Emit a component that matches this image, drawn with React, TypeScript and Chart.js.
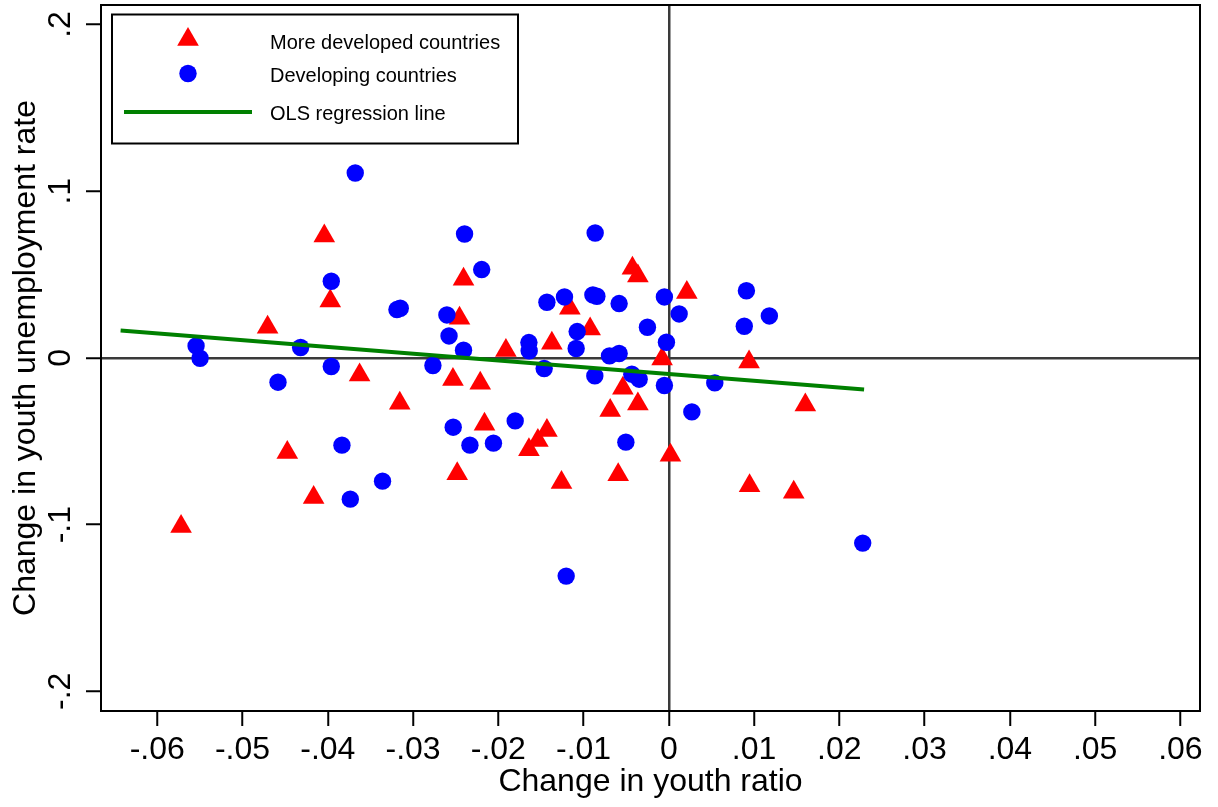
import React, { useEffect, useRef } from 'react';
import { Chart, registerables } from 'chart.js';

Chart.register(...registerables);

// More developed countries (red triangles)
const moreDevX = [
  -0.05721, -0.04706, -0.04475, -0.04166, -0.04041, -0.03971, -0.03627, -0.03156,
  -0.02532, -0.02482, -0.02455, -0.02408, -0.02212, -0.02162, -0.01911, -0.01641,
  -0.01536, -0.0143, -0.01372, -0.01259, -0.01161, -0.00923, -0.00688, -0.00594,
  -0.00539, -0.00427, -0.00363, -0.00363, -0.00079, 0.00019, 0.00211, 0.00941,
  0.00947, 0.01465, 0.01601,
];
const moreDevY = [
  -0.10108, 0.0184, -0.05671, -0.08369, 0.07314, 0.03417, -0.01019, -0.02716,
  -0.01295, -0.06954, 0.0238, 0.04718, -0.01517, -0.03975, 0.00444, -0.05516,
  -0.04952, -0.04353, 0.00881, -0.0747, 0.0298, 0.01739, -0.03153, -0.07014,
  -0.01817, 0.05378, 0.04916, -0.02758, -0.0006, -0.05833, 0.03921, -0.0024,
  -0.07674, -0.08052, -0.02818,
];

// Developing countries (blue circles)
const devX = [
  -0.05545, -0.05498, -0.04584, -0.04319, -0.03959, -0.03959, -0.03834, -0.03736,
  -0.03678, -0.03358, -0.03189, -0.0315, -0.02767, -0.02603, -0.02578, -0.02408,
  -0.02396, -0.02195, -0.02529, -0.02333, -0.02057, -0.01802, -0.01641, -0.01638,
  -0.01462, -0.0143, -0.01224, -0.01204, -0.01087, -0.01075, -0.00891, -0.00844,
  -0.00864, -0.00868, -0.00696, -0.00583, -0.00583, -0.00504, -0.00434, -0.00348,
  -0.00251, -0.00052, -0.00052, -0.00028, 0.00121, 0.0027, 0.00539, 0.00885,
  0.0091, 0.01179, 0.02274,
];
const devY = [
  0.0072, -0.0002, -0.01457, 0.00624, 0.04598, -0.00516, -0.05234, -0.08471,
  0.11091, -0.07392, 0.02902, 0.0298, -0.00456, 0.02578, 0.01319, 0.00462,
  0.07434, 0.053, -0.04155, -0.05234, -0.05114, -0.03777, 0.00923, 0.0042,
  -0.00636, 0.03339, 0.03657, -0.13088, 0.00564, 0.01583, 0.03777, 0.03699,
  0.07494, -0.01079, 0.0012, 0.00264, 0.03261, -0.05054, -0.00977, -0.01277,
  0.0184, 0.03657, -0.01655, 0.00941, 0.02638, -0.03237, -0.01499, 0.019,
  0.04029, 0.02518, -0.11109,
];

// OLS regression line end points
const olsX = [-0.0643, 0.0229];
const olsY = [0.0164, -0.0189];

const xTicks = [-0.06, -0.05, -0.04, -0.03, -0.02, -0.01, 0, 0.01, 0.02, 0.03, 0.04, 0.05, 0.06];
const xTickLabels = ['-.06', '-.05', '-.04', '-.03', '-.02', '-.01', '0', '.01', '.02', '.03', '.04', '.05', '.06'];
const yTicks = [-0.2, -0.1, 0, 0.1, 0.2];
const yTickLabels = ['-.2', '-.1', '0', '.1', '.2'];
const xRange = [-0.0666, 0.0623];
const yRange = [-0.2118, 0.2117];

const seriesLabels = ['More developed countries', 'Developing countries', 'OLS regression line'];
const xTitle = 'Change in youth ratio';
const yTitle = 'Change in youth unemployment rate';

const FONT = "Arial, 'Liberation Sans', sans-serif";
const RED = '#ff0000';
const BLUE = '#0000ff';
const GREEN = '#008000';

const pairs = (xs: number[], ys: number[]) => xs.map((x, i) => ({ x, y: ys[i] }));

const framePlugin = {
  id: 'frameAndLegend',
  afterDraw(chart: any) {
    const { ctx, chartArea } = chart;
    ctx.save();
    ctx.strokeStyle = '#000';
    ctx.lineWidth = 2;
    ctx.strokeRect(chartArea.left, chartArea.top, chartArea.right - chartArea.left, chartArea.bottom - chartArea.top);

    // legend box
    const bx = chartArea.left + 11;
    const by = chartArea.top + 9.5;
    const bw = 406;
    const bh = 129;
    ctx.fillStyle = '#fff';
    ctx.fillRect(bx, by, bw, bh);
    ctx.strokeRect(bx, by, bw, bh);

    const symX = bx + 76;
    // triangle
    const r = 12.5;
    const ty = by + 25;
    ctx.fillStyle = RED;
    ctx.beginPath();
    for (let k = 0; k < 3; k++) {
      const a = (k * 2 * Math.PI) / 3;
      const px = symX + Math.sin(a) * r;
      const py = ty - Math.cos(a) * r;
      if (k === 0) ctx.moveTo(px, py);
      else ctx.lineTo(px, py);
    }
    ctx.closePath();
    ctx.fill();
    // circle
    ctx.fillStyle = BLUE;
    ctx.beginPath();
    ctx.arc(symX, by + 59, 8.7, 0, Math.PI * 2);
    ctx.fill();
    // line
    ctx.strokeStyle = GREEN;
    ctx.lineWidth = 4;
    ctx.beginPath();
    ctx.moveTo(bx + 12, by + 97.5);
    ctx.lineTo(bx + 140, by + 97.5);
    ctx.stroke();

    ctx.fillStyle = '#000';
    ctx.font = `20px ${FONT}`;
    ctx.textAlign = 'left';
    ctx.textBaseline = 'alphabetic';
    const tx = bx + 158;
    ctx.fillText(seriesLabels[0], tx, by + 34);
    ctx.fillText(seriesLabels[1], tx, by + 67);
    ctx.fillText(seriesLabels[2], tx, by + 105);
    ctx.restore();
  },
};

const zeroGrid = (ctx: any) => (ctx.tick && ctx.tick.value === 0 ? '#3a3a3a' : 'rgba(0,0,0,0)');

export default function App() {
  const ref = useRef<HTMLCanvasElement | null>(null);

  useEffect(() => {
    if (!ref.current) return;
    const chart = new Chart(ref.current, {
      type: 'scatter',
      data: {
        datasets: [
          {
            label: seriesLabels[2],
            data: pairs(olsX, olsY),
            showLine: true,
            borderColor: GREEN,
            borderWidth: 4,
            pointRadius: 0,
            fill: false,
          } as any,
          {
            label: seriesLabels[1],
            data: pairs(devX, devY),
            pointStyle: 'circle',
            pointRadius: 8.7,
            backgroundColor: BLUE,
            borderWidth: 0,
          },
          {
            label: seriesLabels[0],
            data: pairs(moreDevX, moreDevY),
            pointStyle: 'triangle',
            pointRadius: 12.5,
            backgroundColor: RED,
            borderWidth: 0,
          },
        ],
      },
      options: {
        animation: false,
        responsive: true,
        maintainAspectRatio: false,
        events: [],
        layout: { autoPadding: false, padding: { left: 0, top: 5, right: 18, bottom: 0 } },
        plugins: { legend: { display: false }, tooltip: { enabled: false } },
        scales: {
          x: {
            type: 'linear',
            min: xRange[0],
            max: xRange[1],
            afterBuildTicks: (s: any) => {
              s.ticks = xTicks.map((v) => ({ value: v }));
            },
            afterFit: (s: any) => {
              s.height = 96;
              s.paddingLeft = 0;
              s.paddingRight = 0;
              s.paddingTop = 0;
              s.paddingBottom = 0;
            },
            border: { display: false },
            grid: {
              color: zeroGrid,
              lineWidth: 2.5,
              tickColor: '#000',
              tickLength: 15,
              tickWidth: 2,
            },
            ticks: {
              autoSkip: false,
              maxRotation: 0,
              minRotation: 0,
              padding: 5,
              color: '#000',
              font: { size: 32, family: FONT, lineHeight: 1.2 },
              callback: (v: any) => xTickLabels[xTicks.indexOf(Number(v))] ?? '',
            },
            title: {
              display: true,
              text: xTitle,
              color: '#000',
              font: { size: 32, family: FONT, lineHeight: 1.2 },
              padding: { top: 0, bottom: 6 },
            },
          },
          y: {
            type: 'linear',
            min: yRange[0],
            max: yRange[1],
            afterBuildTicks: (s: any) => {
              s.ticks = yTicks.map((v) => ({ value: v }));
            },
            afterFit: (s: any) => {
              s.width = 101;
              s.paddingLeft = 0;
              s.paddingRight = 0;
              s.paddingTop = 0;
              s.paddingBottom = 0;
            },
            border: { display: false },
            grid: {
              color: zeroGrid,
              lineWidth: 2.5,
              tickColor: '#000',
              tickLength: 15,
              tickWidth: 2,
            },
            ticks: {
              autoSkip: false,
              minRotation: 90,
              maxRotation: 90,
              crossAlign: 'center',
              padding: 6,
              color: '#000',
              font: { size: 32, family: FONT, lineHeight: 1.2 },
              callback: (v: any) => yTickLabels[yTicks.indexOf(Number(v))] ?? '',
            },
            title: {
              display: true,
              text: yTitle,
              color: '#000',
              font: { size: 32, family: FONT, lineHeight: 1.2 },
              padding: { top: 7, bottom: 0 },
            },
          },
        },
      } as any,
      plugins: [framePlugin],
    });
    return () => chart.destroy();
  }, []);

  return (
    <div style={{ position: 'fixed', left: 0, top: 0, width: 1218, height: 807, background: '#fff' }}>
      <canvas ref={ref} />
    </div>
  );
}
